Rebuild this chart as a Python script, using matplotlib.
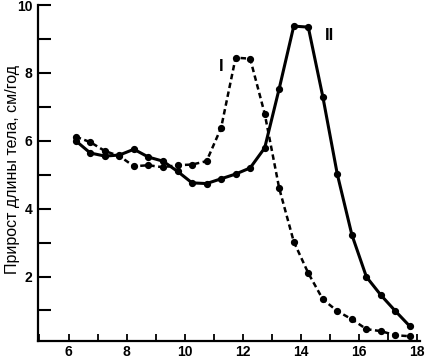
import matplotlib.pyplot as plt

# age, years
age = [6.25, 6.75, 7.25, 7.75, 8.25, 8.75, 9.25, 9.75, 10.25, 10.75, 11.25, 11.75,
       12.25, 12.75, 13.25, 13.75, 14.25, 14.75, 15.25, 15.75, 16.25, 16.75, 17.25, 17.75]

# growth rate, cm/year (I - girls, dashed; II - boys, solid)
girls = [6.12, 5.96, 5.70, 5.55, 5.25, 5.28, 5.22, 5.28, 5.30, 5.40, 6.38, 8.45,
         8.42, 6.80, 4.60, 3.03, 2.10, 1.33, 0.98, 0.74, 0.45, 0.39, 0.27, 0.24]
boys = [6.00, 5.64, 5.55, 5.58, 5.75, 5.52, 5.40, 5.10, 4.76, 4.74, 4.88, 5.02,
        5.20, 5.79, 7.54, 9.38, 9.35, 7.30, 5.01, 3.23, 1.99, 1.45, 0.98, 0.53]

plt.rcParams['font.family'] = ['Liberation Sans', 'DejaVu Sans']

fig = plt.figure(figsize=(4.27, 3.62), dpi=100)
ax = fig.add_axes([0.089, 0.058, 0.895, 0.928])

ax.plot(age, girls, color='black', linestyle=(0, (2.2, 1.4)), linewidth=1.8,
        marker='o', markersize=4.2)
ax.plot(age, boys, color='black', linestyle='-', linewidth=2.2,
        marker='o', markersize=4.2)

ax.text(11.27, 8.2, 'I', fontsize=12, fontweight='bold', ha='center', va='center')
ax.text(14.97, 9.1, 'II', fontsize=12, fontweight='bold', ha='center', va='center')

ax.set_xlim(4.95, 18.1)
ax.set_ylim(0.1, 10)
ax.set_xticks([6, 8, 10, 12, 14, 16, 18])
ax.set_xticks(range(5, 19), minor=True)
ax.set_yticks([2, 4, 6, 8, 10])
ax.set_yticks(range(1, 11), minor=True)

ax.tick_params(axis='x', which='both', direction='in', length=5, width=1.3,
               labelsize=10, pad=3)
ax.tick_params(axis='y', which='both', direction='in', length=9, width=1.5,
               labelsize=10, pad=4)
for lab in ax.get_xticklabels() + ax.get_yticklabels():
    lab.set_fontweight('bold')

ax.spines['top'].set_visible(False)
ax.spines['right'].set_visible(False)
ax.spines['left'].set_linewidth(1.6)
ax.spines['bottom'].set_linewidth(1.6)

ax.set_ylabel('Прирост длины тела, см/год', fontsize=11.5)
ax.yaxis.set_label_coords(-0.048, 0.51)

fig.savefig('out.png', dpi=100)
